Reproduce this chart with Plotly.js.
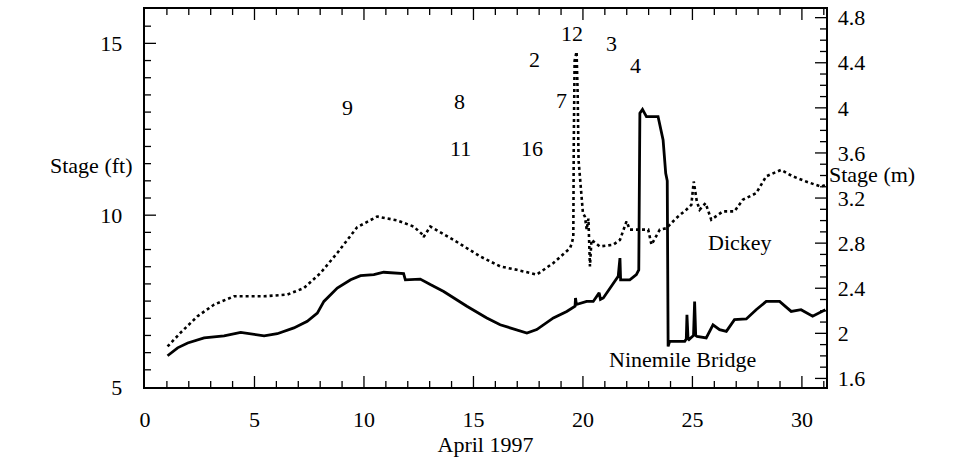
<!DOCTYPE html>
<html>
<head>
<meta charset="utf-8">
<script src="https://cdn.plot.ly/plotly-3.0.1.min.js"></script>
<style>html,body{margin:0;padding:0;background:#fff;}#chart{width:963px;height:457px;}</style>
</head>
<body>
<div id="chart"></div>
<script>
// Dickey stage (ft), April 1997
const dickeyDays = [1.03,1.64,2.4,3.16,4.07,5.44,6.5,7.26,8.02,8.78,9.69,10.6,11.5,12.27,12.7,12.72,13.03,14.09,15.31,16.22,16.98,17.89,18.65,19.41,19.5,19.56,19.58,19.62,19.71,19.76,19.8,19.86,19.93,20.0,20.09,20.17,20.25,20.32,20.39,20.77,21.38,21.69,21.99,22.14,22.6,22.98,23.13,23.51,23.81,24.27,24.72,24.95,25.06,25.2,25.33,25.6,25.86,26.39,26.92,27.3,27.91,28.37,29.05,29.58,30.19,30.87,31.07];
const dickeyStage = [6.18,6.59,7.06,7.40,7.64,7.64,7.69,7.88,8.32,8.90,9.65,9.96,9.85,9.67,9.42,9.36,9.67,9.28,8.80,8.51,8.41,8.27,8.61,9.04,9.2,9.38,12.0,14.5,14.76,13.5,11.6,11.2,10.6,10.06,9.96,9.58,9.9,8.51,9.28,9.09,9.14,9.28,9.82,9.58,9.58,9.58,9.14,9.58,9.62,9.92,10.16,10.3,10.98,10.4,10.16,10.35,9.87,10.11,10.11,10.45,10.64,11.13,11.32,11.13,10.98,10.83,10.88];

// Ninemile Bridge stage (ft), April 1997
const ninemileDays = [1.03,1.49,1.95,2.7,3.61,4.37,5.44,6.04,6.8,7.41,7.87,8.17,8.78,9.39,9.84,10.45,10.9,11.81,11.89,12.57,13.03,13.64,14.7,15.61,16.22,16.98,17.44,17.89,18.65,19.26,19.64,19.66,19.7,20.17,20.47,20.74,20.8,20.93,21.38,21.61,21.69,21.72,22.14,22.44,22.55,22.6,22.72,22.9,23.43,23.66,23.78,23.85,23.89,23.96,24.65,24.72,24.75,24.8,24.84,25.05,25.1,25.15,25.21,25.63,25.94,26.24,26.55,26.92,27.46,27.91,28.37,28.98,29.51,29.96,30.49,31.07];
const ninemileStage = [5.91,6.14,6.28,6.43,6.49,6.59,6.49,6.55,6.72,6.91,7.15,7.49,7.88,8.12,8.24,8.27,8.34,8.30,8.12,8.14,7.98,7.78,7.35,7.01,6.81,6.67,6.57,6.67,7.01,7.20,7.35,7.59,7.40,7.49,7.49,7.74,7.55,7.59,8.03,8.22,8.75,8.12,8.12,8.27,8.41,12.97,13.08,12.87,12.87,12.19,11.22,11.0,6.18,6.33,6.33,6.4,7.10,6.4,6.38,6.5,7.49,6.5,6.47,6.43,6.81,6.67,6.62,6.96,6.98,7.25,7.49,7.49,7.20,7.25,7.06,7.25];

// Event / gauge labels
const eventLabels = ['9','8','11','16','2','7','12','3','4'];
const eventDays =   [9.23,14.35,14.4,17.66,17.77,19.03,19.49,21.31,22.41];
const eventStage =  [13.12,13.30,11.93,11.93,14.52,13.35,15.30,15.01,14.37];

const seriesNames = ['Dickey','Ninemile Bridge'];
const FT_PER_M = 3.28084;
const ftRange = [5, 16];
const dayRange = [0, 31.1];
const mRange = [ftRange[0] / FT_PER_M, ftRange[1] / FT_PER_M];

const font = {family: '"Liberation Serif", serif', size: 22, color: '#000'};
const NB = '\u00a0';

const W = 963, H = 457, L = 145, R = 137, T = 9, B = 70;
const plotW = W - L - R, plotH = H - T - B;
const toPaperX = px => (px - L) / plotW;
const toPaperY = py => 1 - (py - T) / plotH;

// Tick marks drawn inside on all four sides, in axis units (pixel lengths converted through the scales)
const MAJ = 11, MIN = 6;
const dayPerPx = (dayRange[1] - dayRange[0]) / plotW;
const ftPerPx = (ftRange[1] - ftRange[0]) / plotH;
const tickX = [], tickY = [];
const seg = (x0, y0, x1, y1) => { tickX.push(x0, x1, null); tickY.push(y0, y1, null); };
for (let d = 1; d <= Math.floor(dayRange[1]); d++) {
  const len = (d % 5 === 0 ? MAJ : MIN) * ftPerPx;
  seg(d, ftRange[0], d, ftRange[0] + len);
  seg(d, ftRange[1], d, ftRange[1] - len);
}
for (let k = ftRange[0] * 2 + 1; k < ftRange[1] * 2; k++) {
  const v = k / 2;
  const len = (v % 5 === 0 ? MAJ : MIN) * dayPerPx;
  seg(dayRange[0], v, dayRange[0] + len, v);
}
for (let k = Math.ceil(mRange[0] * 10); k <= Math.floor(mRange[1] * 10); k++) {
  const v = k / 10 * FT_PER_M;
  const len = (k % 4 === 0 ? MAJ : MIN) * dayPerPx;
  seg(dayRange[1], v, dayRange[1] - len, v);
}

const traces = [
  {x: tickX, y: tickY, mode: 'lines', line: {color: '#000', width: 1.3},
   hoverinfo: 'skip', showlegend: false, cliponaxis: false},
  {x: dickeyDays, y: dickeyStage, name: seriesNames[0], mode: 'lines',
   line: {color: '#000', width: 2.6, dash: 'dot'}},
  {x: ninemileDays, y: ninemileStage, name: seriesNames[1], mode: 'lines',
   line: {color: '#000', width: 2.8}},
  // invisible helpers that activate the metre axis and the label axis
  {x: [dayRange[0]], y: [mRange[0]], yaxis: 'y2', mode: 'markers',
   marker: {opacity: 0}, hoverinfo: 'skip', showlegend: false},
  {x: [dayRange[0]], y: [ftRange[0]], xaxis: 'x2', mode: 'markers',
   marker: {opacity: 0}, hoverinfo: 'skip', showlegend: false}
];

const annotations = eventLabels.map((t, i) => ({
  x: eventDays[i], y: eventStage[i], xref: 'x', yref: 'y', text: t,
  showarrow: false, font: font
}));
annotations.push(
  {x: 27.15, y: 9.2, xref: 'x', yref: 'y', text: seriesNames[0], showarrow: false, font: font},
  {x: 24.56, y: 5.8, xref: 'x', yref: 'y', text: seriesNames[1], showarrow: false, font: font},
  {x: toPaperX(48), y: toPaperY(165), xref: 'paper', yref: 'paper', text: 'Stage (ft)', showarrow: false, font: font},
  {x: toPaperX(917), y: toPaperY(174), xref: 'paper', yref: 'paper', text: 'Stage (m)', showarrow: false, font: font}
);

const layout = {
  width: W, height: H,
  margin: {l: L, r: R, t: T, b: B},
  paper_bgcolor: '#fff', plot_bgcolor: '#fff',
  showlegend: false,
  font: font,
  xaxis: {
    range: dayRange, dtick: 5, ticks: '', showline: true, linecolor: '#000', linewidth: 1.5,
    mirror: true, showgrid: false, zeroline: false, showticklabels: false
  },
  // label-only copy of the day axis, pushed down by transparent outside ticks
  xaxis2: {
    overlaying: 'x', side: 'bottom', anchor: 'y', matches: 'x',
    range: dayRange, dtick: 5, ticks: 'outside', ticklen: 13,
    tickcolor: 'rgba(0,0,0,0)', showline: false, showgrid: false, zeroline: false,
    tickfont: font,
    title: {text: 'April 1997', font: font, standoff: 0}
  },
  yaxis: {
    range: ftRange, dtick: 5, ticks: '', showline: true, linecolor: '#000', linewidth: 1.5,
    showgrid: false, zeroline: false, ticksuffix: NB + NB + NB, tickfont: font
  },
  yaxis2: {
    overlaying: 'y', side: 'right', anchor: 'x', range: mRange, dtick: 0.4, ticks: '',
    showline: true, linecolor: '#000', linewidth: 1.5,
    showgrid: false, zeroline: false, tickprefix: NB, tickfont: font
  },
  annotations: annotations
};

Plotly.newPlot('chart', traces, layout, {displayModeBar: false});
</script>
</body>
</html>
